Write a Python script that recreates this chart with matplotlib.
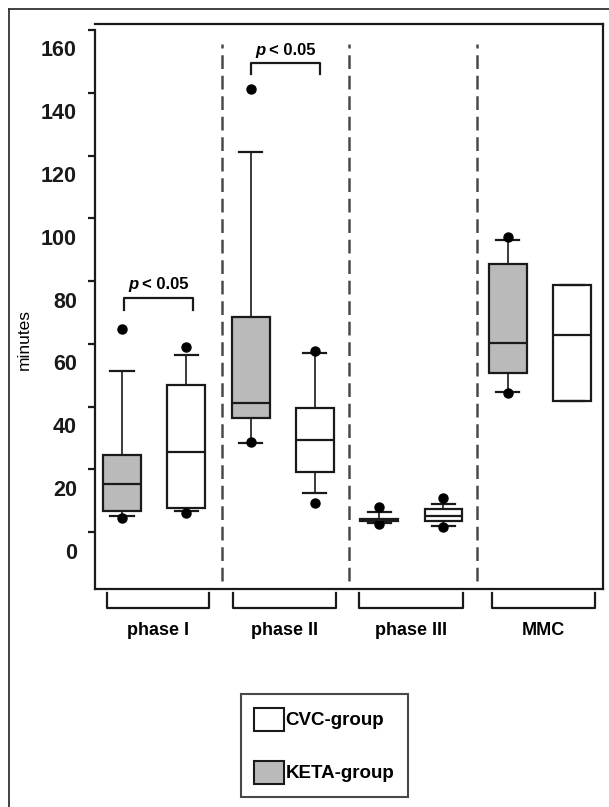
import matplotlib
matplotlib.use("Agg")
import matplotlib.pyplot as plt
from matplotlib.patches import Patch
from matplotlib.lines import Line2D
from matplotlib.transforms import ScaledTranslation

# ---- data (minutes) ----
phases = ["phase I", "phase II", "phase III", "MMC"]
keta_med = [15.3, 41.1, 3.9, 60.2]
keta_q1 = [6.8, 36.5, 3.5, 50.6]
keta_q3 = [24.6, 68.7, 4.2, 85.4]
keta_lo = [5.2, 28.3, 3.0, 44.8]
keta_hi = [51.3, 121.2, 6.4, 93.1]
keta_dots = [[4.5, 64.6], [28.7, 141.1], [2.6, 8.2], [44.4, 94.1]]
cvc_med = [25.7, 29.4, 5.2, 62.7]
cvc_q1 = [7.8, 19.3, 3.6, 41.8]
cvc_q3 = [46.9, 39.7, 7.3, 78.8]
cvc_lo = [6.8, 12.6, 2.1, 41.8]
cvc_hi = [56.5, 57.0, 9.0, 78.8]
cvc_dots = [[6.1, 58.9], [9.4, 57.8], [1.8, 10.8], []]
y_ticks = [0, 20, 40, 60, 80, 100, 120, 140, 160]
sig_pairs = [(0, "< 0.05"), (1, "< 0.05")]
legend_labels = ["CVC-group", "KETA-group"]

KETA_COL = "#bababa"
CVC_COL = "white"
INK = "#1a1a1a"

plt.rcParams["font.family"] = ["Liberation Sans", "DejaVu Sans"]

fig = plt.figure(figsize=(6.09, 8.07), dpi=100)
ax = fig.add_axes([0.156, 0.2698, 0.8346, 0.7005])

stats, positions, colors = [], [], []
for i in range(len(phases)):
    stats.append(dict(med=keta_med[i], q1=keta_q1[i], q3=keta_q3[i],
                      whislo=keta_lo[i], whishi=keta_hi[i], fliers=keta_dots[i]))
    positions.append(2 * i + 1)
    colors.append(KETA_COL)
    stats.append(dict(med=cvc_med[i], q1=cvc_q1[i], q3=cvc_q3[i],
                      whislo=cvc_lo[i], whishi=cvc_hi[i], fliers=cvc_dots[i]))
    positions.append(2 * i + 2)
    colors.append(CVC_COL)

bp = ax.bxp(stats, positions=positions, widths=0.59, patch_artist=True,
            showfliers=True, manage_ticks=False,
            boxprops=dict(edgecolor=INK, linewidth=1.6),
            medianprops=dict(color=INK, linewidth=1.6),
            whiskerprops=dict(color=INK, linewidth=1.2),
            capprops=dict(color=INK, linewidth=1.6),
            capwidths=0.36,
            flierprops=dict(marker="o", markerfacecolor="black",
                            markeredgecolor="black", markersize=6.5))
for patch, c in zip(bp["boxes"], colors):
    patch.set_facecolor(c)
for med in bp["medians"]:
    med.set_zorder(4)

# separators between phases
for xs in [2.55, 4.535, 6.515]:
    ax.plot([xs, xs], [-15.5, 155.5], color="#4a4a4a", lw=1.8,
            dashes=(5.5, 2.7), zorder=1)

ax.set_xlim(0.58, 8.485)
ax.set_ylim(-18.15, 161.9)

for side in ["left", "right", "top", "bottom"]:
    ax.spines[side].set_linewidth(1.6)
    ax.spines[side].set_color(INK)
ax.spines["left"].set_bounds(-18.15, 160)

ax.set_xticks([])
ax.set_yticks(y_ticks)
ax.set_yticklabels([str(v) for v in y_ticks], fontsize=15.5, fontweight="bold")
ax.tick_params(axis="y", length=5, width=1.6, pad=8, colors=INK)
off = ScaledTranslation(0, -18.5 / 100, fig.dpi_scale_trans)
for lbl in ax.get_yticklabels():
    lbl.set_transform(lbl.get_transform() + off)
ax.set_ylabel("minutes", fontsize=12.5, fontweight="medium")
ax.yaxis.set_label_coords(-0.125, 0.441)

# group brackets under the x axis
br_x = [(0.76, 2.36), (2.72, 4.33), (4.69, 6.31), (6.75, 8.36)]
for (x0, x1), name in zip(br_x, phases):
    ax.plot([x0, x0, x1, x1], [-19.2, -24.1, -24.1, -19.2], color=INK,
            lw=1.6, clip_on=False)
    ax.text((x0 + x1) / 2, -31.3, name, ha="center", va="center",
            fontsize=13, fontweight="bold", clip_on=False)

# significance brackets
sig_geom = {0: (1.03, 2.10, 70.8, 74.5, 78.8), 1: (3.0, 4.08, 145.9, 149.4, 153.6)}
for idx, txt in sig_pairs:
    x0, x1, yb, yt, ytxt = sig_geom[idx]
    xc = (x0 + x1) / 2
    ax.plot([x0, x0, x1, x1], [yb, yt, yt, yb], color=INK, lw=1.6)
    ax.annotate("p", xy=(xc, ytxt), xytext=(-14.5, 0), textcoords="offset points",
                ha="right", va="center", fontsize=12, fontweight="bold",
                fontstyle="italic")
    ax.annotate(txt, xy=(xc, ytxt), xytext=(-11.5, 0), textcoords="offset points",
                ha="left", va="center", fontsize=12, fontweight="bold")

# legend
handles = [Patch(facecolor=CVC_COL, edgecolor=INK, linewidth=1.5),
           Patch(facecolor=KETA_COL, edgecolor=INK, linewidth=1.5)]
leg = fig.legend(handles, legend_labels, loc="upper left",
                 bbox_to_anchor=(0.3957, 0.1397), borderaxespad=0,
                 prop=dict(size=13.5, weight="bold"), fancybox=False,
                 edgecolor=INK, handlelength=1.55, handleheight=1.5,
                 handletextpad=0.1, labelspacing=1.6, borderpad=0.72)
leg.get_frame().set_linewidth(1.5)

# outer frame
fig.add_artist(Line2D([9 / 609, 9 / 609], [0, 1 - 9 / 807], color="#333333", lw=1.3))
fig.add_artist(Line2D([9 / 609, 1], [1 - 9 / 807, 1 - 9 / 807], color="#333333", lw=1.3))

fig.savefig("out.png", dpi=100)
